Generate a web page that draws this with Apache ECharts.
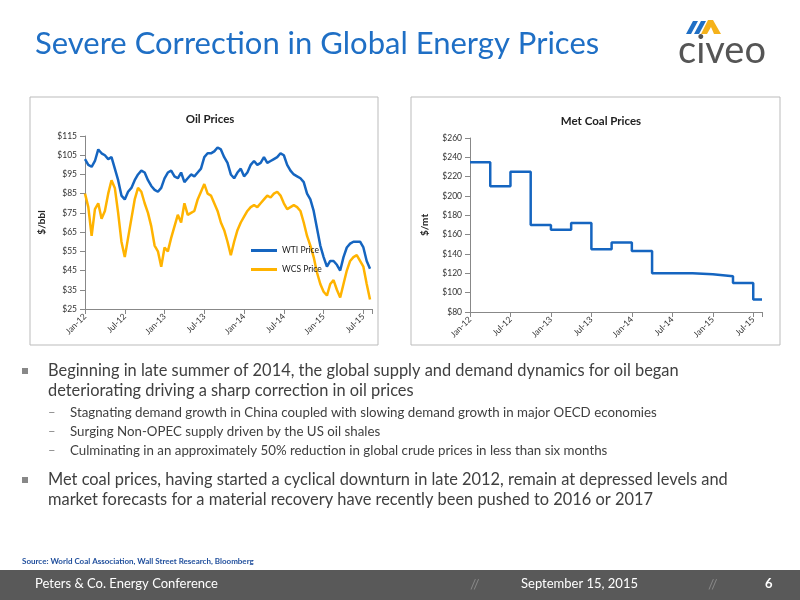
<!DOCTYPE html>
<html><head><meta charset="utf-8">
<script src="https://cdn.jsdelivr.net/npm/echarts@6/dist/echarts.min.js"></script>
<style>html,body{margin:0;padding:0;background:#fff}#c{width:800px;height:600px}</style>
</head><body><div id="c"></div>
<script>
const xTickLabels = {0:'Jan-12',6:'Jul-12',12:'Jan-13',18:'Jul-13',24:'Jan-14',30:'Jul-14',36:'Jan-15',42:'Jul-15'};
const wti = [103,100,99,102,108,106,105,103,104,98,92,84,82,86,88,92,95,97,96,92,89,87,86,88,93,96,97,94,93,96,91,93,95,94,96,98,104,106,106,107,109,108,104,101,95,93,96,98,94,96,100,102,100,101,104,101,102,103,104,106,105,100,97,95,94,93,91,85,82,76,67,58,52,47,50,50,48,45,52,57,59,60,60,60,57,50,46];
const wcs = [85,78,63,77,80,72,76,85,92,88,75,60,52,62,72,82,88,86,80,75,68,58,55,47,57,55,62,68,74,70,80,74,75,76,82,86,90,85,84,80,76,70,66,60,53,60,66,70,73,76,78,79,78,80,82,84,83,85,86,84,80,77,78,79,78,76,70,63,58,52,44,38,34,32,38,40,35,31,38,45,50,52,53,50,47,38,30];
const coalMonths = [0,3,6,9,12,15,18,21,24,27,30,33,36,39,42,43.3];
const coalPrices = [235,210,225,170,165,172,145,152,143,120,120,119,117,110,93,93];

const F = 'Lato, "Liberation Sans", sans-serif';
const toPairs = a => a.map((v,i)=>[i*0.5, v]);
const xAx = (gi) => ({type:'value', gridIndex:gi, min:0, max:43.3, interval:6,
  splitLine:{show:false}, axisLine:{lineStyle:{color:'#888'}}, axisTick:{show:true,lineStyle:{color:'#888'}},
  axisLabel:{rotate:45, fontSize:8.5, color:'#333', fontFamily:F, formatter:v=>xTickLabels[v]||'', margin:6}});
const yAx = (gi,min,max,iv,name) => ({type:'value', gridIndex:gi, min, max, interval:iv,
  name, nameLocation:'middle', nameGap:gi===0?38:40, nameTextStyle:{fontSize:10,fontWeight:'bold',color:'#222',fontFamily:F},
  splitLine:{show:false}, axisLine:{show:true,lineStyle:{color:'#888'}}, axisTick:{show:true,lineStyle:{color:'#888'}},
  axisLabel:{fontSize:8.5, color:'#333', fontFamily:F, formatter:v=>'$'+v}});

const chart = echarts.init(document.getElementById('c'));
const txt = (x,y,t,s,c,w) => ({type:'text', left:x, top:y, style:{text:t, fontSize:s, fill:c||'#404040', fontFamily:F, fontWeight:w||'normal'}});
chart.setOption({
  animation:false,
  title:[
    {text:'Oil Prices', left:205, top:108, textAlign:'center', textStyle:{fontSize:11.5,fontWeight:'bold',fontFamily:F,color:'#222'}},
    {text:'Met Coal Prices', left:596, top:110, textAlign:'center', textStyle:{fontSize:11.5,fontWeight:'bold',fontFamily:F,color:'#222'}}
  ],
  legend:{orient:'vertical', left:246, top:241, itemGap:10, itemWidth:26, itemHeight:3, icon:'rect',
    textStyle:{fontSize:8.5,fontFamily:F,color:'#222'}, data:['WTI Price','WCS Price']},
  grid:[{left:85,top:136,width:287,height:173},{left:470,top:138,width:292,height:174}],
  xAxis:[xAx(0), xAx(1)],
  yAxis:[yAx(0,25,115,10,'$/bbl'), yAx(1,80,260,20,'$/mt')],
  series:[
    {name:'WTI Price', type:'line', data:toPairs(wti), symbol:'none', lineStyle:{width:2.5,color:'#1565C0'}, itemStyle:{color:'#1565C0'}, z:3},
    {name:'WCS Price', type:'line', data:toPairs(wcs), symbol:'none', lineStyle:{width:2.5,color:'#FFB300'}, itemStyle:{color:'#FFB300'}, z:2},
    {name:'Coal', type:'line', xAxisIndex:1, yAxisIndex:1, step:'end', data:coalMonths.map((m,i)=>[m,coalPrices[i]]), symbol:'none', lineStyle:{width:2.5,color:'#1565C0'}}
  ],
  graphic:[
    txt(35,28,'Severe Correction in Global Energy Prices',31,'#1F6FC5'),
    {type:'rect', shape:{x:30,y:97,width:348,height:248}, style:{fill:'none',stroke:'#bbb',lineWidth:1}},
    {type:'rect', shape:{x:411,y:97,width:369,height:248}, style:{fill:'none',stroke:'#bbb',lineWidth:1}},
    {type:'polygon', shape:{points:[[686,34],[691,34],[698,21],[693,21]]}, style:{fill:'#1F6FC5'}},
    {type:'polygon', shape:{points:[[694,34],[699,34],[706,21],[701,21]]}, style:{fill:'#1F6FC5'}},
    {type:'polygon', shape:{points:[[701,34],[707,34],[711,27],[714,34],[721,34],[713,20],[708,20]]}, style:{fill:'#F5B21B'}},
    txt(678,32,'civeo',38,'#555'),
    {type:'rect', shape:{x:22,y:368,width:6,height:6}, style:{fill:'#888'}},
    txt(48,363,'Beginning in late summer of 2014, the global supply and demand dynamics for oil began',16.4),
    txt(48,383,'deteriorating driving a sharp correction in oil prices',16.4),
    txt(48,406,'–',13,'#888'), txt(70,406,'Stagnating demand growth in China coupled with slowing demand growth in major OECD economies',13.3),
    txt(48,425,'–',13,'#888'), txt(70,425,'Surging Non-OPEC supply driven by the US oil shales',13.3),
    txt(48,444,'–',13,'#888'), txt(70,444,'Culminating in an approximately 50% reduction in global crude prices in less than six months',13.3),
    {type:'rect', shape:{x:22,y:477,width:6,height:6}, style:{fill:'#888'}},
    txt(48,472,'Met coal prices, having started a cyclical downturn in late 2012, remain at depressed levels and',16.4),
    txt(48,492,'market forecasts for a material recovery have recently been pushed to 2016 or 2017',16.4),
    txt(22,557,'Source: World Coal Association, Wall Street Research, Bloomberg',8,'#1F4E9C','bold'),
    {type:'rect', shape:{x:0,y:570,width:800,height:30}, style:{fill:'#595959'}},
    txt(35,577,'Peters & Co. Energy Conference',13,'#fff'),
    txt(470,577,'//',14,'#888'), txt(708,577,'//',14,'#888'),
    txt(521,577,'September 15, 2015',13,'#fff'),
    txt(765,577,'6',13,'#fff','bold')
  ]
});
</script></body></html>
